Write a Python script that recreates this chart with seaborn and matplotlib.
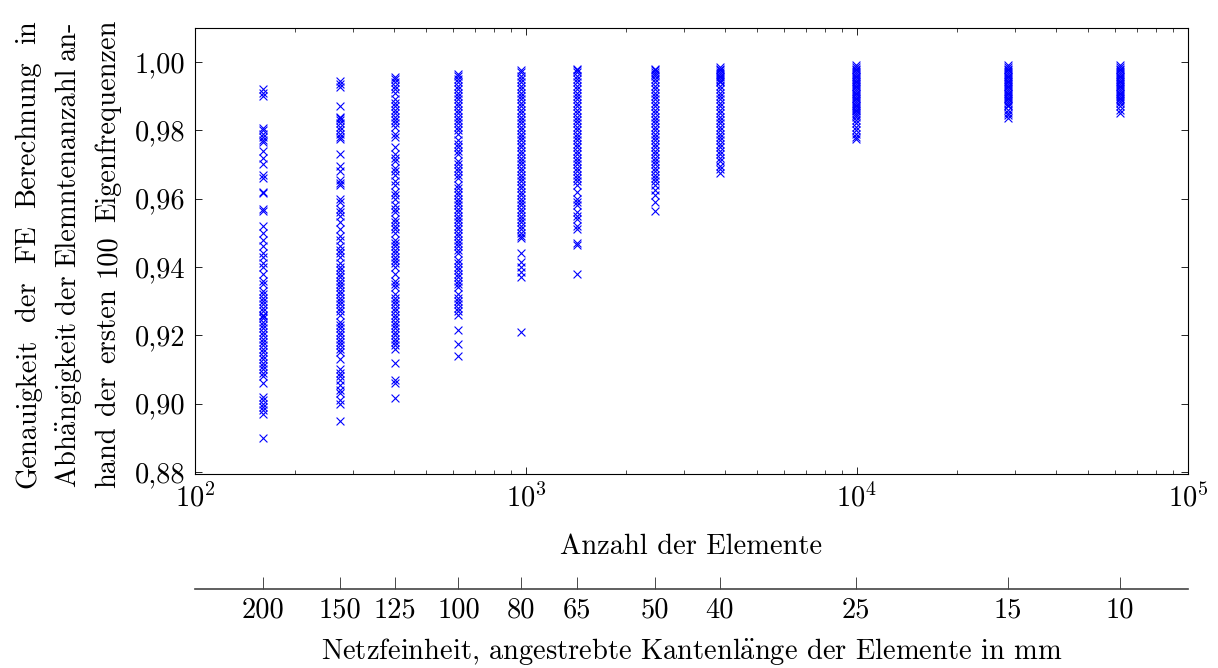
import matplotlib
matplotlib.use("Agg")
import matplotlib.pyplot as plt
import seaborn as sns
import pandas as pd
from matplotlib.ticker import FixedLocator, FixedFormatter, LogLocator, NullFormatter

# ---------------- data ----------------
element_counts = [160, 274, 402, 625, 966, 1426, 2453, 3855, 9930, 28600, 62300]
mesh_sizes = ["200", "150", "125", "100", "80", "65", "50", "40", "25", "15", "10"]

acc_160 = [0.992, 0.991, 0.990, 0.9805, 0.980, 0.979, 0.978, 0.977, 0.9765, 0.974, 0.972, 0.970,
           0.967, 0.966, 0.962, 0.9615, 0.957, 0.9565, 0.952, 0.950, 0.948, 0.946, 0.944, 0.943,
           0.941, 0.940, 0.938, 0.936, 0.935, 0.933, 0.932, 0.931, 0.930, 0.929, 0.928, 0.927,
           0.926, 0.9255, 0.925, 0.924, 0.923, 0.922, 0.921, 0.920, 0.919, 0.918, 0.917, 0.916,
           0.915, 0.914, 0.913, 0.912, 0.911, 0.910, 0.909, 0.908, 0.906, 0.902, 0.901, 0.900,
           0.899, 0.898, 0.897, 0.890]
acc_274 = [0.9945, 0.9935, 0.9925, 0.987, 0.984, 0.9835, 0.983, 0.982, 0.981, 0.980, 0.979, 0.978,
           0.9775, 0.973, 0.9695, 0.968, 0.9655, 0.9645, 0.964, 0.960, 0.959, 0.957, 0.956, 0.955,
           0.953, 0.951, 0.949, 0.948, 0.946, 0.945, 0.944, 0.943, 0.941, 0.940, 0.939, 0.938,
           0.937, 0.936, 0.935, 0.934, 0.933, 0.932, 0.931, 0.930, 0.929, 0.928, 0.927, 0.926,
           0.924, 0.923, 0.922, 0.921, 0.920, 0.919, 0.918, 0.917, 0.916, 0.915, 0.913, 0.910,
           0.909, 0.908, 0.907, 0.9055, 0.904, 0.903, 0.901, 0.900, 0.895]
acc_402 = [0.9955, 0.995, 0.994, 0.993, 0.992, 0.991, 0.989, 0.988, 0.987, 0.986, 0.985, 0.984,
           0.983, 0.982, 0.981, 0.979, 0.978, 0.975, 0.973, 0.972, 0.971, 0.969, 0.968, 0.967,
           0.965, 0.964, 0.962, 0.961, 0.960, 0.958, 0.957, 0.956, 0.954, 0.953, 0.952, 0.951,
           0.950, 0.948, 0.947, 0.946, 0.945, 0.944, 0.943, 0.942, 0.941, 0.940, 0.938, 0.936,
           0.935, 0.934, 0.932, 0.931, 0.930, 0.929, 0.928, 0.927, 0.926, 0.925, 0.924, 0.923,
           0.922, 0.921, 0.920, 0.919, 0.918, 0.917, 0.916, 0.912, 0.907, 0.906, 0.9015]
acc_625 = [0.9965, 0.996, 0.995, 0.994, 0.993, 0.992, 0.991, 0.990, 0.989, 0.988, 0.987, 0.986,
           0.985, 0.984, 0.983, 0.982, 0.981, 0.980, 0.979, 0.977, 0.976, 0.975, 0.974, 0.973,
           0.971, 0.970, 0.969, 0.968, 0.967, 0.966, 0.964, 0.963, 0.962, 0.961, 0.960, 0.959,
           0.958, 0.957, 0.956, 0.955, 0.954, 0.953, 0.952, 0.951, 0.950, 0.949, 0.948, 0.947,
           0.946, 0.945, 0.944, 0.942, 0.941, 0.940, 0.939, 0.938, 0.937, 0.936, 0.935, 0.934,
           0.932, 0.931, 0.930, 0.929, 0.928, 0.927, 0.926, 0.9215, 0.9175, 0.914]
acc_966 = [0.9975, 0.997, 0.996, 0.995, 0.994, 0.993, 0.992, 0.991, 0.990, 0.989, 0.988, 0.987,
           0.986, 0.985, 0.984, 0.983, 0.982, 0.981, 0.980, 0.979, 0.978, 0.977, 0.976, 0.975,
           0.974, 0.973, 0.972, 0.971, 0.970, 0.969, 0.968, 0.967, 0.966, 0.965, 0.964, 0.963,
           0.962, 0.961, 0.960, 0.959, 0.958, 0.957, 0.956, 0.955, 0.954, 0.953, 0.952, 0.951,
           0.950, 0.949, 0.9485, 0.944, 0.9415, 0.940, 0.9385, 0.937, 0.921]
acc_1426 = [0.998, 0.9975, 0.997, 0.996, 0.995, 0.994, 0.993, 0.992, 0.991, 0.990, 0.989, 0.988,
            0.987, 0.986, 0.985, 0.984, 0.983, 0.982, 0.981, 0.980, 0.979, 0.978, 0.977, 0.976,
            0.975, 0.974, 0.973, 0.972, 0.971, 0.970, 0.969, 0.968, 0.967, 0.966, 0.965, 0.964,
            0.962, 0.960, 0.959, 0.958, 0.956, 0.955, 0.954, 0.952, 0.951, 0.947, 0.9465, 0.938]
acc_2453 = [0.998, 0.9975, 0.997, 0.9965, 0.996, 0.995, 0.994, 0.993, 0.992, 0.991, 0.990, 0.989,
            0.988, 0.987, 0.986, 0.985, 0.984, 0.983, 0.982, 0.981, 0.980, 0.979, 0.978, 0.977,
            0.976, 0.975, 0.974, 0.973, 0.972, 0.971, 0.970, 0.969, 0.968, 0.967, 0.966, 0.965,
            0.964, 0.9625, 0.961, 0.959, 0.9565]
acc_3855 = [0.9985, 0.998, 0.9975, 0.997, 0.9965, 0.996, 0.9955, 0.995, 0.9945, 0.994, 0.993, 0.992,
            0.991, 0.990, 0.989, 0.988, 0.987, 0.986, 0.985, 0.984, 0.983, 0.982, 0.981, 0.980,
            0.979, 0.978, 0.977, 0.976, 0.975, 0.974, 0.973, 0.972, 0.971, 0.9695, 0.9685, 0.9675]
acc_9930 = [0.999, 0.9985, 0.998, 0.9975, 0.997, 0.9965, 0.996, 0.9955, 0.995, 0.9945, 0.994, 0.9935,
            0.993, 0.9925, 0.992, 0.9915, 0.991, 0.9905, 0.990, 0.9895, 0.989, 0.9885, 0.988, 0.9875,
            0.987, 0.9865, 0.986, 0.9855, 0.985, 0.9845, 0.984, 0.983, 0.982, 0.981, 0.980, 0.979,
            0.978, 0.9775]
acc_28600 = [0.999, 0.9985, 0.998, 0.9975, 0.997, 0.9965, 0.996, 0.9955, 0.995, 0.9945, 0.994, 0.9935,
             0.993, 0.9925, 0.992, 0.9915, 0.991, 0.9905, 0.990, 0.9895, 0.989, 0.9885, 0.988, 0.9875,
             0.987, 0.986, 0.985, 0.9845, 0.9835]
acc_62300 = [0.999, 0.9985, 0.998, 0.9975, 0.997, 0.9965, 0.996, 0.9955, 0.995, 0.9945, 0.994, 0.9935,
             0.993, 0.9925, 0.992, 0.9915, 0.991, 0.9905, 0.990, 0.9895, 0.989, 0.9885, 0.988, 0.987,
             0.986, 0.985]

accuracies = [acc_160, acc_274, acc_402, acc_625, acc_966, acc_1426, acc_2453,
              acc_3855, acc_9930, acc_28600, acc_62300]

y_ticks = [0.88, 0.90, 0.92, 0.94, 0.96, 0.98, 1.00]
y_tick_labels = ["0,88", "0,90", "0,92", "0,94", "0,96", "0,98", "1,00"]

rows = []
for n, accs in zip(element_counts, accuracies):
    for a in accs:
        rows.append({"n": n, "acc": a})
df = pd.DataFrame(rows)

# ---------------- style ----------------
sns.set_theme(style="ticks")
plt.rcParams["font.family"] = ["cmr10", "DejaVu Serif"]
plt.rcParams["mathtext.fontset"] = "cm"
plt.rcParams["axes.formatter.use_mathtext"] = True
plt.rcParams["axes.unicode_minus"] = False
plt.rcParams["text.color"] = "black"
plt.rcParams["axes.labelcolor"] = "black"
plt.rcParams["xtick.color"] = "black"
plt.rcParams["ytick.color"] = "black"

FS = 20.5
fig = plt.figure(figsize=(12.18, 6.68), dpi=100)
L, R, B, T = 195 / 1218, 1188 / 1218, 1 - 474 / 668, 1 - 28 / 668
ax = fig.add_axes([L, B, R - L, T - B])

sns.scatterplot(data=df, x="n", y="acc", ax=ax, marker="x", color="#0000ff",
                s=32, linewidth=0.8, legend=False)

ax.set_xscale("log")
ax.set_xlim(100, 100000)
ax.set_ylim(0.8794, 1.0099)
ax.yaxis.set_major_locator(FixedLocator(y_ticks))
ax.yaxis.set_major_formatter(FixedFormatter(y_tick_labels))
ax.xaxis.set_major_locator(LogLocator(base=10, numticks=10))
ax.xaxis.set_minor_locator(LogLocator(base=10, subs=range(2, 10), numticks=20))
ax.xaxis.set_minor_formatter(NullFormatter())
ax.tick_params(axis="both", which="major", direction="in", length=5, width=0.6,
               top=True, right=True, labelsize=FS, colors="black", pad=7)
ax.tick_params(axis="x", which="minor", direction="in", length=3, width=0.5,
               top=True, bottom=True)
for s in ax.spines.values():
    s.set_linewidth(0.8)
    s.set_color("black")
ax.set_xlabel("Anzahl der Elemente", fontsize=FS, labelpad=15)
ax.set_ylabel("")

# secondary axis with mesh sizes
sec = ax.secondary_xaxis(-(589 - 474) / (474 - 28))
sec.set_xticks(element_counts)
sec.set_xticklabels(mesh_sizes)
sec.xaxis.set_minor_locator(FixedLocator([]))
sec.tick_params(axis="x", which="major", direction="in", length=9, width=0.5,
                labelsize=FS, colors="black", pad=6)
sec.spines["bottom"].set_linewidth(1.2)
sec.spines["bottom"].set_color("#444444")
sec.set_xlabel(r"Netzfeinheit, angestrebte Kantenl$\ddot{\rm a}$nge der Elemente in mm",
               fontsize=FS, labelpad=9)

# justified three-line y label
lines = [
    ["Genauigkeit", "der", "FE", "Berechnung", "in"],
    [r"Abh$\ddot{\rm a}$ngigkeit", "der", "Elemntenanzahl", "an-"],
    ["hand", "der", "ersten", "100", "Eigenfrequenzen"],
]
line_x = [28 / 1218, 68 / 1218, 108 / 1218]
y_bot, y_top = 1 - 488 / 668, 1 - 20 / 668
fig.canvas.draw()
renderer = fig.canvas.get_renderer()
for words, xl in zip(lines, line_x):
    texts = [fig.text(xl, 0, w, rotation=90, fontsize=FS, ha="center", va="bottom")
             for w in words]
    hs = [t.get_window_extent(renderer).height / fig.bbox.height for t in texts]
    gap = ((y_top - y_bot) - sum(hs)) / (len(words) - 1)
    y = y_bot
    for t, h in zip(texts, hs):
        t.set_position((xl, y))
        y += h + gap

fig.savefig("out.png", dpi=100)
